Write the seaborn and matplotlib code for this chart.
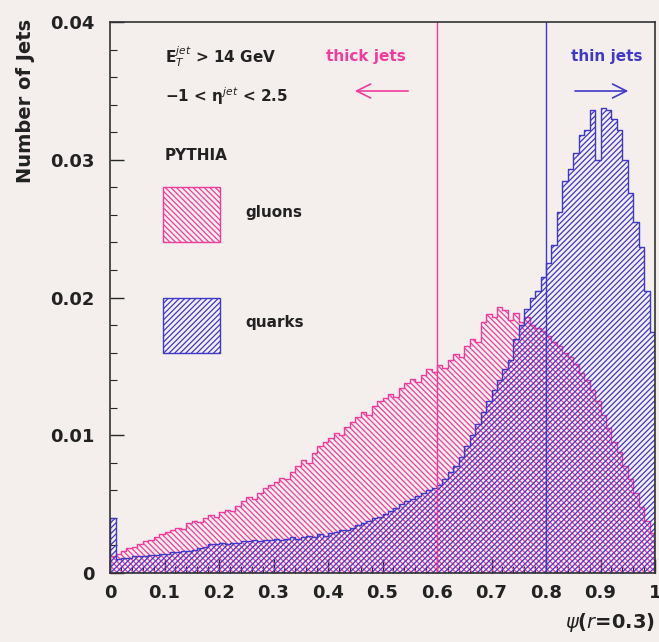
import numpy as np
import pandas as pd
import matplotlib
matplotlib.use('Agg')
import matplotlib.pyplot as plt
import seaborn as sns

# psi(r=0.3) distributions, 100 bins of width 0.01
bin_width = 0.01
centers = np.round(np.arange(100) * bin_width + bin_width / 2, 4)

gluons = [
    0.0012, 0.0014, 0.0016, 0.0018, 0.0019, 0.0021, 0.0023, 0.0024, 0.0026, 0.0028,
    0.0030, 0.0031, 0.0033, 0.0032, 0.0036, 0.0038, 0.0037, 0.0040, 0.0042, 0.0041,
    0.0044, 0.0046, 0.0045, 0.0049, 0.0052, 0.0055, 0.0054, 0.0058, 0.0062, 0.0064,
    0.0066, 0.0069, 0.0068, 0.0073, 0.0078, 0.0082, 0.0080, 0.0087, 0.0092, 0.0095,
    0.0098, 0.0102, 0.0100, 0.0106, 0.0110, 0.0113, 0.0117, 0.0115, 0.0121, 0.0125,
    0.0127, 0.0130, 0.0128, 0.0134, 0.0138, 0.0141, 0.0139, 0.0144, 0.0148, 0.0146,
    0.0151, 0.0149, 0.0155, 0.0159, 0.0157, 0.0165, 0.0170, 0.0168, 0.0182, 0.0188,
    0.0186, 0.0193, 0.0191, 0.0184, 0.0189, 0.0182, 0.0186, 0.0180, 0.0178, 0.0176,
    0.0172, 0.0168, 0.0165, 0.0160, 0.0157, 0.0152, 0.0145, 0.0140, 0.0133, 0.0125,
    0.0115, 0.0105, 0.0095, 0.0088, 0.0078, 0.0068, 0.0058, 0.0048, 0.0038, 0.0029,
]
quarks = [
    0.0040, 0.0010, 0.0011, 0.0011, 0.0012, 0.0012, 0.0012, 0.0013, 0.0013, 0.0014,
    0.0014, 0.0015, 0.0015, 0.0016, 0.0016, 0.0017, 0.0018, 0.0019, 0.0021, 0.0021,
    0.0022, 0.0021, 0.0022, 0.0022, 0.0023, 0.0023, 0.0024, 0.0023, 0.0024, 0.0024,
    0.0025, 0.0024, 0.0025, 0.0026, 0.0025, 0.0026, 0.0027, 0.0026, 0.0028, 0.0027,
    0.0029, 0.0030, 0.0031, 0.0031, 0.0033, 0.0035, 0.0036, 0.0038, 0.0040, 0.0041,
    0.0043, 0.0045, 0.0047, 0.0050, 0.0052, 0.0054, 0.0056, 0.0058, 0.0060, 0.0062,
    0.0064, 0.0068, 0.0073, 0.0078, 0.0084, 0.0092, 0.0100, 0.0108, 0.0117, 0.0125,
    0.0133, 0.0140, 0.0148, 0.0155, 0.0170, 0.0180, 0.0192, 0.0200, 0.0205, 0.0215,
    0.0225, 0.0238, 0.0262, 0.0285, 0.0293, 0.0305, 0.0318, 0.0322, 0.0336, 0.0300,
    0.0338, 0.0336, 0.0330, 0.0322, 0.0300, 0.0276, 0.0255, 0.0237, 0.0205, 0.0175,
]

cut_thick = 0.6
cut_thin = 0.8

pink = '#f23c9c'
blue = '#4038c8'
bg = '#f4efed'
ink = '#222222'
hatch_g = '\\' * 6
hatch_q = '/' * 6

sns.set_style("ticks")
plt.rcParams['font.family'] = ['DejaVu Sans']
plt.rcParams['hatch.linewidth'] = 0.9

fig = plt.figure(figsize=(6.59, 6.42), dpi=100, facecolor=bg)
ax = fig.add_axes([0.167, 0.1075, 0.827, 0.858])
ax.set_facecolor(bg)


def hatched_hist(vals, col, hatch):
    df = pd.DataFrame({'psi': centers, 'w': vals})
    n0 = len(ax.collections)
    sns.histplot(data=df, x='psi', weights='w', binwidth=bin_width, binrange=(0, 1),
                 element='step', fill=True, color=col, hatch=hatch, ax=ax)
    for coll in ax.collections[n0:]:
        coll.set_facecolor('none')
        coll.set_edgecolor(col)
        coll.set_linewidth(1.0)


hatched_hist(gluons, pink, hatch_g)
hatched_hist(quarks, blue, hatch_q)

ax.axvline(cut_thick, color=pink, lw=1.0)
ax.axvline(cut_thin, color=blue, lw=1.0)

ax.set_xlim(0, 1)
ax.set_ylim(0, 0.04)
ax.set_xticks(np.round(np.arange(0, 1.01, 0.1), 1))
ax.set_xticklabels(['0', '0.1', '0.2', '0.3', '0.4', '0.5', '0.6', '0.7', '0.8', '0.9', '1'])
ax.set_yticks([0, 0.01, 0.02, 0.03, 0.04])
ax.set_yticklabels(['0', '0.01', '0.02', '0.03', '0.04'])
ax.set_yticks(np.arange(0, 0.0401, 0.002), minor=True)
ax.set_xticks(np.arange(0, 1.001, 0.02), minor=True)
ax.tick_params(axis='both', which='major', direction='in', length=10, width=1,
               labelsize=13, labelcolor=ink)
ax.tick_params(axis='y', which='major', pad=11)
ax.tick_params(axis='x', which='major', pad=8)
ax.tick_params(axis='both', which='minor', direction='in', length=5, width=0.8)
for lab in ax.get_xticklabels() + ax.get_yticklabels():
    lab.set_fontweight('bold')
for s in ax.spines.values():
    s.set_visible(True)
    s.set_linewidth(1.2)
    s.set_color('#333333')

ax.set_xlabel('')
ax.set_ylabel('')
fig.text(0.994, 0.012, r'$\psi$($r$=0.3)', ha='right', va='bottom', fontsize=14,
         fontweight='bold', color=ink)
fig.text(0.038, 0.97, 'Number of Jets', rotation=90, ha='center', va='top',
         fontsize=14, fontweight='bold', color=ink)

# annotations
fs = 11
ax.text(0.10, 0.0375, 'E$_T^{jet}$ > 14 GeV', fontsize=fs, fontweight='bold',
        va='center', color=ink)
ax.text(0.10, 0.0346, '\u22121 < \u03b7$^{jet}$ < 2.5', fontsize=fs, fontweight='bold',
        va='center', color=ink)
ax.text(0.10, 0.0303, 'PYTHIA', fontsize=fs, fontweight='bold', va='center', color=ink)

ax.add_patch(plt.Rectangle((0.097, 0.0240), 0.105, 0.0040, facecolor='none',
                           edgecolor=pink, hatch=hatch_g, lw=1.0))
ax.text(0.248, 0.0262, 'gluons', fontsize=fs, fontweight='bold', va='center', color=ink)
ax.add_patch(plt.Rectangle((0.097, 0.0160), 0.105, 0.0040, facecolor='none',
                           edgecolor=blue, hatch=hatch_q, lw=1.0))
ax.text(0.248, 0.0182, 'quarks', fontsize=fs, fontweight='bold', va='center', color=ink)

ax.text(0.47, 0.0375, 'thick jets', color=pink, fontsize=fs, fontweight='bold',
        ha='center', va='center')
ax.annotate('', xy=(0.444, 0.0350), xytext=(0.552, 0.0350),
            arrowprops=dict(arrowstyle='->', color=pink, lw=1.2, mutation_scale=25))
ax.text(0.912, 0.0375, 'thin jets', color=blue, fontsize=fs, fontweight='bold',
        ha='center', va='center')
ax.annotate('', xy=(0.956, 0.0350), xytext=(0.848, 0.0350),
            arrowprops=dict(arrowstyle='->', color=blue, lw=1.2, mutation_scale=25))

fig.savefig('out.png', dpi=100, facecolor=bg)
